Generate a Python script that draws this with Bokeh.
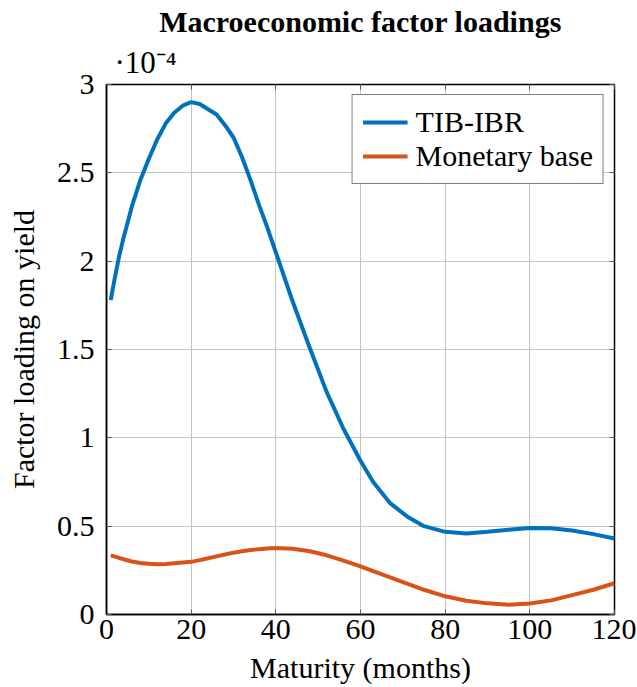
from bokeh.plotting import figure
from bokeh.models import Range1d, FixedTicker, LinearAxis, Legend, LegendItem, Title
from bokeh.embed import file_html
from bokeh.resources import INLINE

# Maturity in months
maturity = [1, 2, 3, 4, 6, 8, 10, 12, 14, 16, 18, 20, 22, 24, 26, 28, 30, 32, 34, 36,
            38, 40, 44, 48, 52, 56, 60, 63, 67, 71, 75, 80, 85, 90, 95, 100, 105, 110,
            115, 120]
# Factor loadings, in units of 1e-4
tib_ibr = [1.78, 1.91, 2.03, 2.13, 2.31, 2.46, 2.58, 2.69, 2.78, 2.84, 2.88, 2.90,
           2.89, 2.86, 2.83, 2.77, 2.70, 2.59, 2.46, 2.32, 2.19, 2.05, 1.77, 1.51,
           1.26, 1.05, 0.87, 0.75, 0.63, 0.555, 0.50, 0.468, 0.458, 0.468, 0.48,
           0.49, 0.488, 0.475, 0.455, 0.43]
monetary_base = [0.335, 0.328, 0.32, 0.313, 0.30, 0.292, 0.287, 0.285, 0.286, 0.29,
                 0.294, 0.298, 0.308, 0.318, 0.329, 0.34, 0.35, 0.358, 0.365, 0.37,
                 0.374, 0.376, 0.372, 0.358, 0.335, 0.305, 0.272, 0.245, 0.21, 0.175,
                 0.14, 0.103, 0.078, 0.063, 0.055, 0.062, 0.08, 0.11, 0.14, 0.177]

x_ticks = [0, 20, 40, 60, 80, 100, 120]
y_ticks = [0, 0.5, 1, 1.5, 2, 2.5, 3]
y_tick_labels = ["0", "0.5", "1", "1.5", "2", "2.5", "3"]
scale_text = "·10⁻⁴"

FONT = "Liberation Serif"
BLUE = "#0072BD"
ORANGE = "#D95319"
FS = "30px"

p = figure(width=636, height=686, output_backend="svg", toolbar_location=None,
           x_range=Range1d(0, 120), y_range=Range1d(0, 3),
           min_border_left=106, min_border_right=22, min_border_top=84, min_border_bottom=72)

p.title.text = "Macroeconomic factor loadings"
p.title.text_font = FONT
p.title.text_font_size = "30px"
p.title.text_font_style = "bold"
p.title.text_color = "black"
p.title.align = "center"
p.title.standoff = 0

p.outline_line_color = "black"
p.outline_line_width = 1.5

for ax in (p.xaxis[0], p.yaxis[0]):
    ax.major_label_text_font = FONT
    ax.major_label_text_font_size = FS
    ax.major_label_text_color = "black"
    ax.axis_label_text_font = FONT
    ax.axis_label_text_font_size = FS
    ax.axis_label_text_font_style = "normal"
    ax.axis_label_text_color = "black"
    ax.major_tick_in = 5
    ax.major_tick_out = 0
    ax.minor_tick_line_color = None
    ax.major_tick_line_color = "#555555"
    ax.axis_line_color = "black"
    ax.axis_line_width = 1.5

p.xaxis.ticker = FixedTicker(ticks=x_ticks)
p.yaxis.ticker = FixedTicker(ticks=y_ticks)
p.yaxis.major_label_overrides = {t: l for t, l in zip(y_ticks, y_tick_labels)}
p.xaxis.axis_label = "Maturity (months)"
p.yaxis.axis_label = "Factor loading on yield"
p.xaxis.major_label_standoff = 5
p.xaxis.axis_label_standoff = 9
p.yaxis.major_label_standoff = 12
p.yaxis.axis_label_standoff = 14

# mirrored ticks on right and top
for side, tks in (("right", y_ticks), ("above", x_ticks)):
    ax = LinearAxis(ticker=FixedTicker(ticks=tks), major_tick_in=5, major_tick_out=0,
                    minor_tick_line_color=None, major_tick_line_color="#555555",
                    axis_line_color=None, major_label_text_color=None,
                    major_label_text_font_size="0px", major_label_standoff=0)
    p.add_layout(ax, side)

# scale factor shown above the axis
p.add_layout(Title(text=scale_text, align="left", offset=8, text_font=FONT,
                   text_font_size="31px", text_font_style="normal", text_color="black",
                   standoff=10), "above")

p.xgrid.ticker = FixedTicker(ticks=x_ticks)
p.ygrid.ticker = FixedTicker(ticks=y_ticks)
p.grid.grid_line_color = "#c4c4c4"
p.grid.grid_line_width = 1

r1 = p.line(maturity, tib_ibr, line_color=BLUE, line_width=4)
r2 = p.line(maturity, monetary_base, line_color=ORANGE, line_width=4)

legend = Legend(items=[LegendItem(label="TIB-IBR", renderers=[r1]),
                       LegendItem(label="Monetary base", renderers=[r2])],
                location="top_right")
legend.label_text_font = FONT
legend.label_text_font_size = FS
legend.label_text_color = "black"
legend.glyph_width = 45
legend.glyph_height = 20
legend.label_standoff = 8
legend.padding = 10
legend.spacing = 0
legend.margin = 10
legend.border_line_color = "black"
legend.border_line_width = 1
legend.background_fill_alpha = 1
p.add_layout(legend, "center")

open("out.html", "w").write(file_html(p, INLINE))
